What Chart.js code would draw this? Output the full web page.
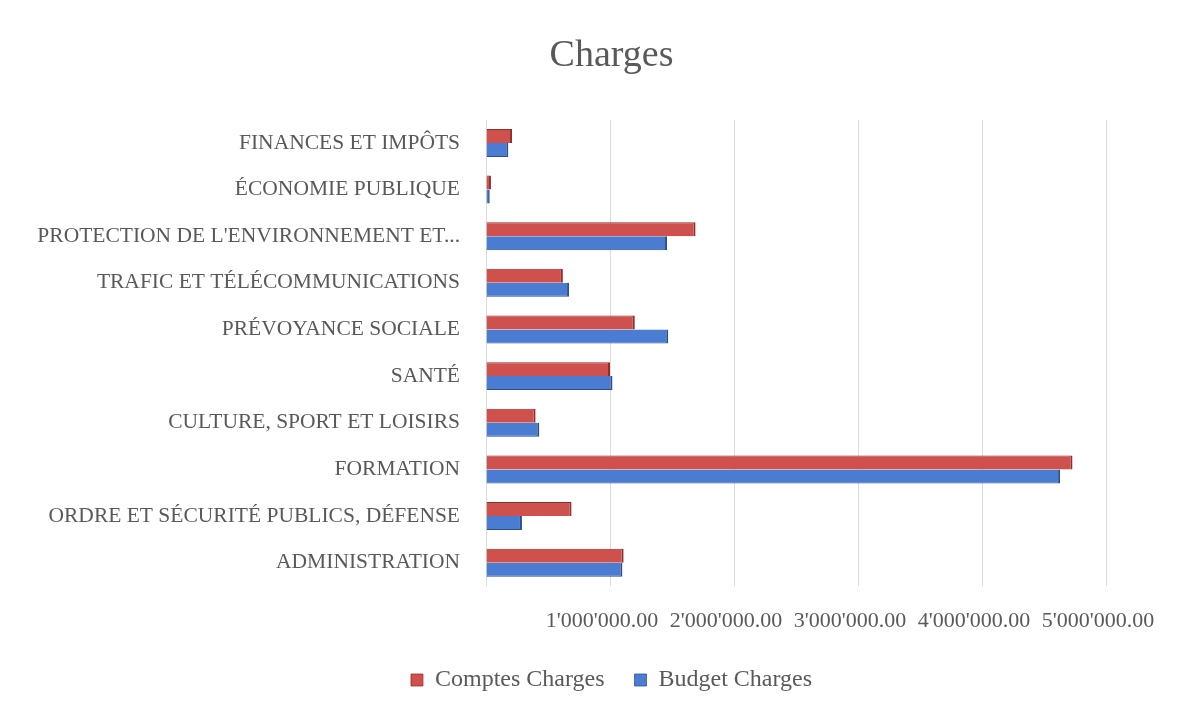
<!DOCTYPE html>
<html>
<head>
<meta charset="utf-8">
<script src="https://cdn.jsdelivr.net/npm/chart.js@4/dist/chart.umd.min.js"></script>
<style>
  html, body { margin: 0; padding: 0; background: #fff; }
  canvas { display: block; }
</style>
</head>
<body>
<canvas id="chart" width="1203" height="708"></canvas>
<script>
const categories = [
  'FINANCES ET IMPÔTS',
  'ÉCONOMIE PUBLIQUE',
  "PROTECTION DE L'ENVIRONNEMENT ET...",
  'TRAFIC ET TÉLÉCOMMUNICATIONS',
  'PRÉVOYANCE SOCIALE',
  'SANTÉ',
  'CULTURE, SPORT ET LOISIRS',
  'FORMATION',
  'ORDRE ET SÉCURITÉ PUBLICS, DÉFENSE',
  'ADMINISTRATION'
];
const comptesCharges = [210000, 40000, 1690000, 620000, 1200000, 1000000, 400000, 4730000, 690000, 1110000];
const budgetCharges = [180000, 30000, 1460000, 670000, 1470000, 1020000, 430000, 4630000, 290000, 1100000];
const xMax = 5000000;
const xStep = 1000000;

const textColor = '#595959';
const serif = "'Liberation Serif', 'DejaVu Serif', serif";

// swiss style number: 1'000'000.00
function swiss(v) {
  const parts = v.toFixed(2).split('.');
  return parts[0].replace(/\B(?=(\d{3})+(?!\d))/g, "'") + '.' + parts[1];
}

const whiteBg = {
  id: 'whiteBg',
  beforeDraw(chart) {
    const ctx = chart.ctx;
    ctx.save();
    ctx.fillStyle = '#fff';
    ctx.fillRect(0, 0, chart.width, chart.height);
    ctx.restore();
  }
};

// title and legend are centred on the whole picture, not on the plot
const centreBlocks = {
  id: 'centreBlocks',
  afterLayout(chart) {
    if (chart.titleBlock) {
      chart.titleBlock.left = 20;
      chart.titleBlock.right = chart.width;
    }
    if (chart.legend) {
      chart.legend.left = 20;
      chart.legend.right = chart.width;
    }
  }
};

new Chart(document.getElementById('chart').getContext('2d'), {
  type: 'bar',
  data: {
    labels: categories,
    datasets: [
      {
        label: 'Comptes Charges',
        data: comptesCharges,
        backgroundColor: '#cf514e',
        borderColor: '#8e2f2d',
        borderWidth: {top: 1, right: 2, bottom: 0, left: 0},
        borderSkipped: 'start'
      },
      {
        label: 'Budget Charges',
        data: budgetCharges,
        backgroundColor: '#4a7dd2',
        borderColor: '#2c4f8c',
        borderWidth: {top: 0, right: 2, bottom: 1, left: 0},
        borderSkipped: 'start'
      }
    ]
  },
  options: {
    indexAxis: 'y',
    responsive: false,
    animation: false,
    barPercentage: 1,
    categoryPercentage: 0.6,
    layout: { padding: { left: 0, right: 97, top: 0, bottom: 6 } },
    scales: {
      x: {
        min: 0,
        max: xMax,
        ticks: {
          stepSize: xStep,
          padding: 22,
          labelOffset: -8,
          color: textColor,
          font: { family: serif, size: 22 },
          maxRotation: 0,
          autoSkip: false,
          callback: v => v === 0 ? '' : swiss(v)
        },
        grid: { color: '#dcdcdc', drawTicks: false },
        border: { display: false },
        afterFit(axis) { axis.height = 52; }
      },
      y: {
        ticks: {
          padding: 26,
          color: textColor,
          font: { family: serif, size: 21.5 },
          autoSkip: false
        },
        grid: { display: false, drawTicks: false },
        border: { display: false },
        afterFit(axis) { axis.width = 486; }
      }
    },
    plugins: {
      title: {
        display: true,
        text: 'Charges',
        color: textColor,
        font: { family: serif, size: 38, weight: 'normal' },
        padding: { top: 33, bottom: 41 }
      },
      legend: {
        position: 'bottom',
        labels: {
          color: textColor,
          font: { family: serif, size: 24 },
          boxWidth: 12,
          boxHeight: 12,
          padding: 30
        }
      },
      tooltip: { enabled: false }
    }
  },
  plugins: [whiteBg, centreBlocks]
});
</script>
</body>
</html>
